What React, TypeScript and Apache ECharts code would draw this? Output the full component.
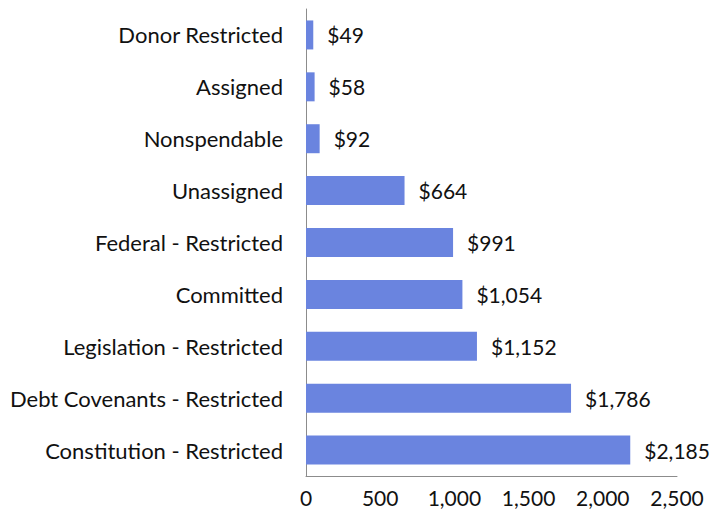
import React, { useEffect, useRef } from "react";
import * as echarts from "echarts";

const categories = [
  "Donor Restricted",
  "Assigned",
  "Nonspendable",
  "Unassigned",
  "Federal - Restricted",
  "Committed",
  "Legislation - Restricted",
  "Debt Covenants - Restricted",
  "Constitution - Restricted",
];
const values = [49, 58, 92, 664, 991, 1054, 1152, 1786, 2185];
const xTicks = [0, 500, 1000, 1500, 2000, 2500];

export default function App() {
  const ref = useRef<HTMLDivElement>(null);
  useEffect(() => {
    if (!ref.current) return;
    const chart = echarts.init(ref.current, null, { renderer: "svg" });
    const font = "Lato, 'Open Sans', sans-serif";
    chart.setOption({
      animation: false,
      grid: { left: 306, right: 50, top: 9, bottom: 42, containLabel: false },
      xAxis: {
        type: "value",
        min: 0,
        max: 2500,
        interval: 500,
        splitLine: { show: false },
        axisLine: { show: true, lineStyle: { color: "#8c8c8c", width: 1 } },
        axisTick: { show: false },
        axisLabel: {
          color: "#111",
          fontFamily: font,
          fontSize: 21,
          margin: 11,
          formatter: (v: number) => (xTicks.includes(v) ? v.toLocaleString("en-US") : ""),
        },
      },
      yAxis: {
        type: "category",
        data: categories.slice().reverse(),
        axisLine: { show: true, lineStyle: { color: "#8c8c8c", width: 1 } },
        axisTick: { show: false },
        axisLabel: { color: "#111", fontFamily: font, fontSize: 22, margin: 23 },
      },
      series: [
        {
          type: "bar",
          data: values.slice().reverse(),
          barWidth: 29,
          itemStyle: { color: "#6A84DF" },
          label: {
            show: true,
            position: "right",
            distance: 14,
            color: "#111",
            fontFamily: font,
            fontSize: 21,
            formatter: (p: any) => "$" + Number(p.value).toLocaleString("en-US"),
          },
        },
      ],
    });
    return () => chart.dispose();
  }, []);
  return <div ref={ref} style={{ width: 727, height: 518, position: "absolute", left: 0, top: 0 }} />;
}
